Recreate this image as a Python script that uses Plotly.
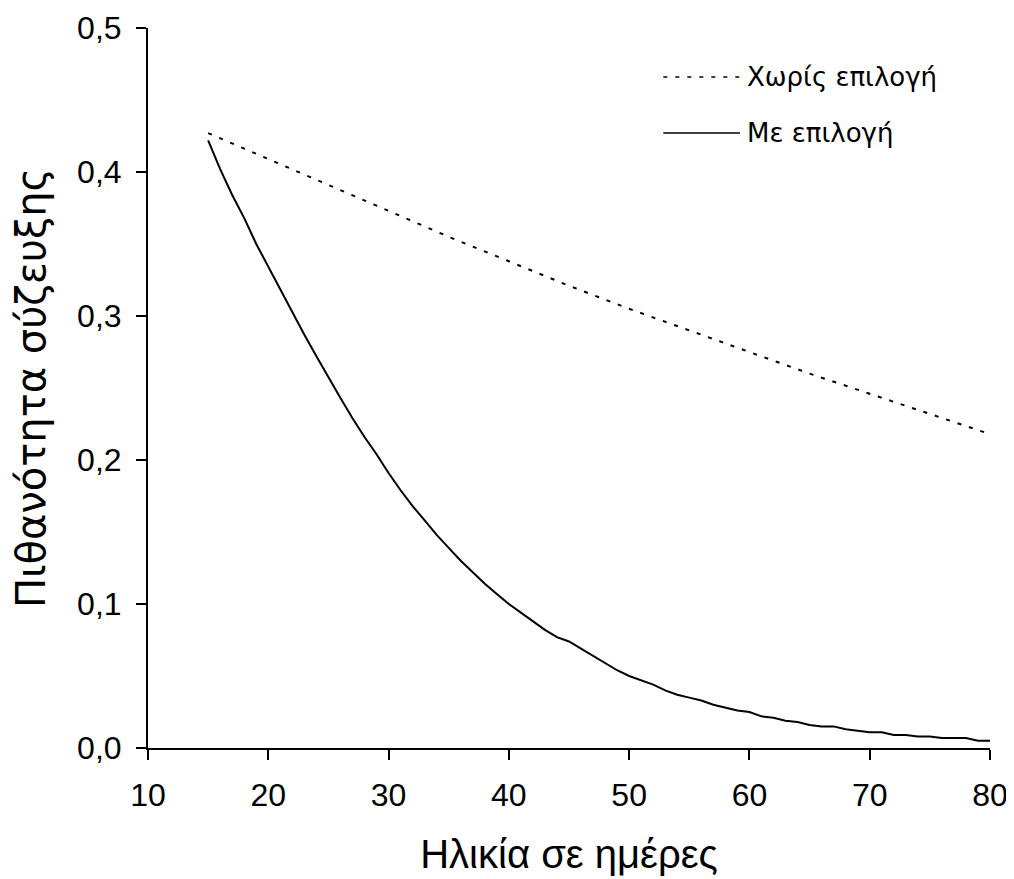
import plotly.graph_objects as go

# age in days and mating probability
days_no_sel = [15, 20, 25, 30, 35, 40, 45, 50, 55, 60, 65, 70, 75, 80]
prob_no_sel = [0.427, 0.409, 0.391, 0.373, 0.355, 0.338, 0.321,
               0.305, 0.290, 0.275, 0.260, 0.246, 0.232, 0.218]

days_sel = list(range(15, 81))
prob_sel = [0.422, 0.402, 0.384, 0.368, 0.350, 0.334, 0.318, 0.302, 0.287, 0.272,
            0.257, 0.243, 0.229, 0.216, 0.204, 0.191, 0.179, 0.168, 0.158, 0.148,
            0.139, 0.130, 0.122, 0.114, 0.107, 0.100, 0.094, 0.088, 0.082, 0.077,
            0.074, 0.069, 0.064, 0.059, 0.054, 0.050, 0.047, 0.044, 0.040, 0.037,
            0.035, 0.033, 0.030, 0.028, 0.026, 0.025, 0.022, 0.021, 0.019, 0.018,
            0.016, 0.015, 0.015, 0.013, 0.012, 0.011, 0.011, 0.009, 0.009, 0.008,
            0.008, 0.007, 0.007, 0.007, 0.005, 0.005]

names = ["Χωρίς επιλογή", "Με επιλογή"]
x_ticks = [10, 20, 30, 40, 50, 60, 70, 80]
y_ticks = [0.0, 0.1, 0.2, 0.3, 0.4, 0.5]

FONT = "Liberation Sans, Arial, sans-serif"
WIDE = "DejaVu Sans, sans-serif"
DASH = "4px,8px"

fig = go.Figure()
fig.add_trace(go.Scatter(x=days_no_sel, y=prob_no_sel, mode="lines", name=names[0],
                         line=dict(color="black", width=2, dash=DASH),
                         showlegend=False))
fig.add_trace(go.Scatter(x=days_sel, y=prob_sel, mode="lines", name=names[1],
                         line=dict(color="black", width=2),
                         showlegend=False))

# hand-drawn legend (long line samples like the original)
legend_rows = [(0.932, DASH), (0.854, "solid")]
for (yy, dash), label in zip(legend_rows, names):
    fig.add_shape(type="line", xref="paper", yref="paper",
                  x0=0.612, x1=0.703, y0=yy, y1=yy,
                  line=dict(color="black", width=1.5, dash=dash))
    fig.add_annotation(xref="paper", yref="paper", x=0.709, y=yy,
                       text=label, showarrow=False, xanchor="left", yanchor="middle",
                       font=dict(family=WIDE, size=26, color="black"))

axis_common = dict(
    showgrid=False, zeroline=False, showline=True, linecolor="black", linewidth=2,
    ticks="outside", ticklen=10, tickwidth=2, tickcolor="black",
    tickfont=dict(family=FONT, size=32, color="black"),
    automargin=False,
)

fig.update_xaxes(range=[10, 80], tickvals=x_ticks, ticklabelstandoff=8,
                 title=dict(text="Ηλικία σε ημέρες", standoff=28,
                            font=dict(family=FONT, size=40, color="black")),
                 **axis_common)
fig.update_yaxes(range=[0, 0.5], tickvals=y_ticks, tickformat=".1f",
                 ticklabelstandoff=8,
                 title=dict(text="Πιθανότητα σύζευξης", standoff=20,
                            font=dict(family=WIDE, size=40, color="black")),
                 **axis_common)

# the page body adds an 8px offset, so margins are shifted to compensate
fig.update_layout(
    width=1014, height=879,
    margin=dict(l=140, r=32, t=20, b=139),
    plot_bgcolor="white", paper_bgcolor="white",
    separators=",.",
    font=dict(family=FONT, color="black"),
)

fig.write_html("out.html")
